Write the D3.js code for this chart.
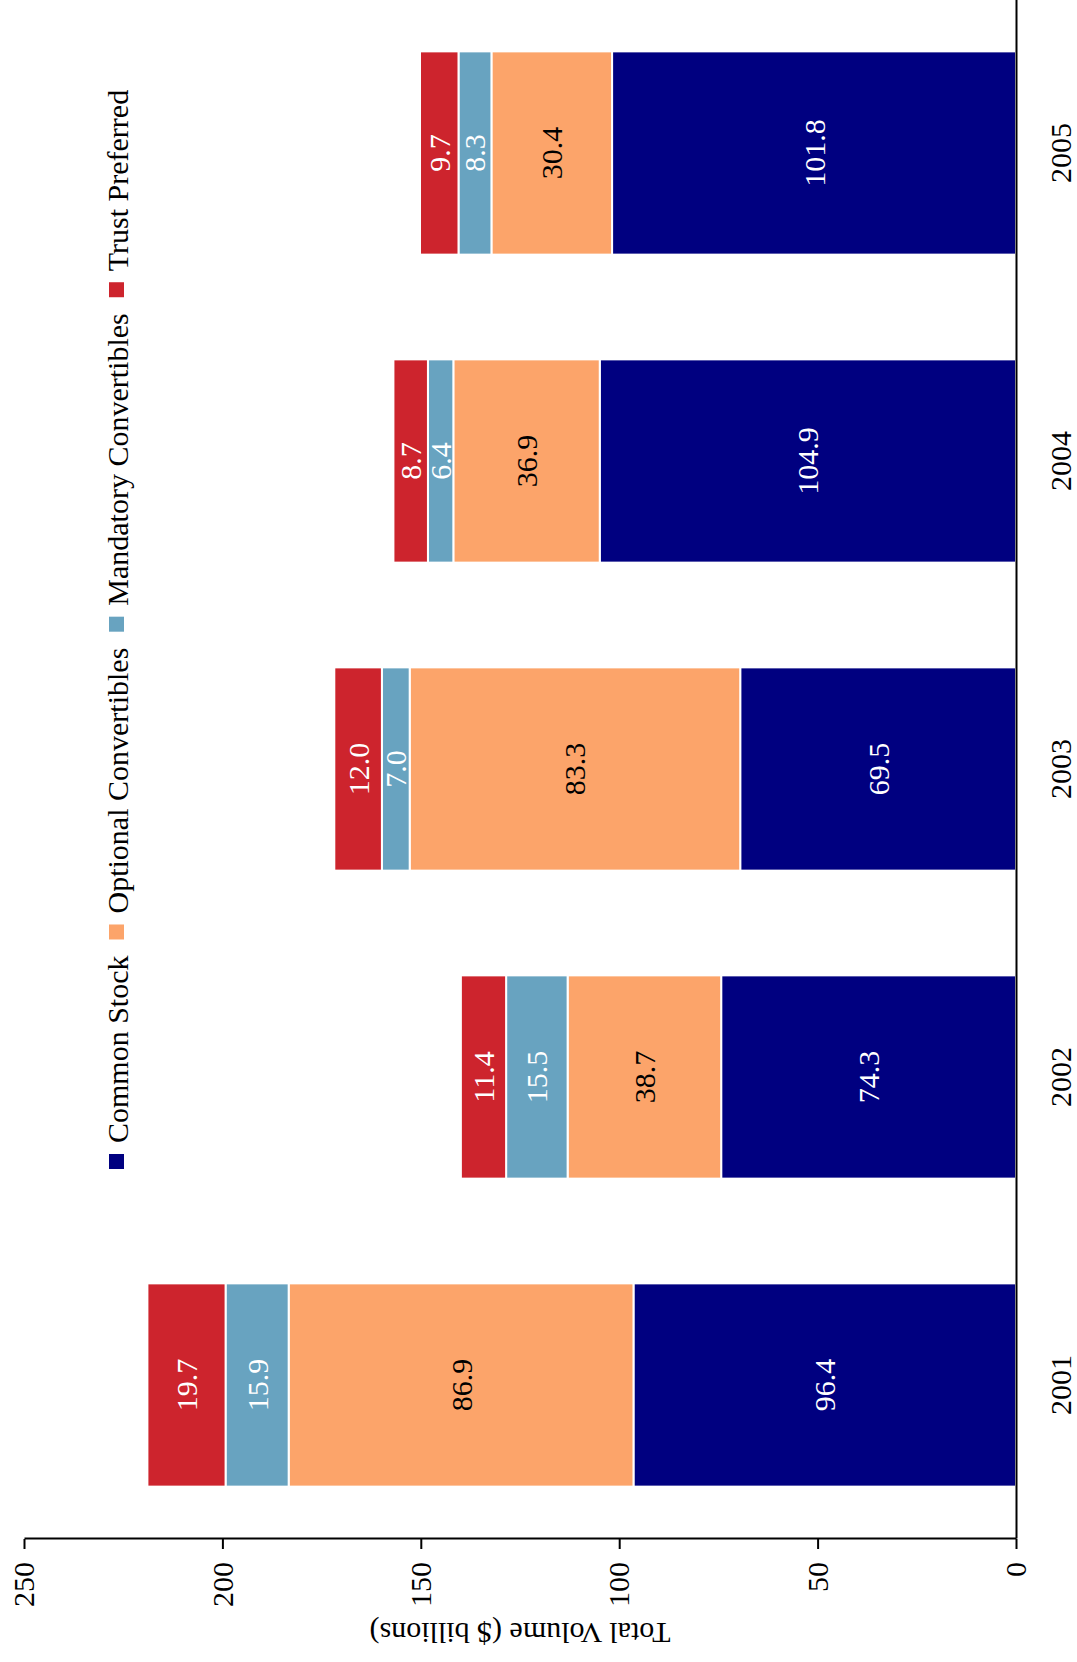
<!DOCTYPE html>
<html>
<head>
<meta charset="utf-8">
<script src="https://cdn.jsdelivr.net/npm/d3@7"></script>
<style>
  html, body { margin: 0; padding: 0; background: #fff; }
  svg { display: block; }
</style>
</head>
<body>
<script>
const years = ["2001", "2002", "2003", "2004", "2005"];
const seriesNames = ["Common Stock", "Optional Convertibles", "Mandatory Convertibles", "Trust Preferred"];
const commonStock = [96.4, 74.3, 69.5, 104.9, 101.8];
const optionalConv = [86.9, 38.7, 83.3, 36.9, 30.4];
const mandatoryConv = [15.9, 15.5, 7.0, 6.4, 8.3];
const trustPreferred = [19.7, 11.4, 12.0, 8.7, 9.7];
const valueTicks = [0, 50, 100, 150, 200, 250];
const colors = ["#000080", "#fca46a", "#68a3c0", "#cd242d"];
const labelColors = ["#ffffff", "#000000", "#ffffff", "#ffffff"];
const axisTitle = "Total Volume ($ billions)";

const FONT = "'Liberation Serif', 'Times New Roman', Times, serif";
const W = 1077, H = 1662;
// chart is drawn in its own orientation (width H, height W) then turned a quarter turn
const svg = d3.select("body").append("svg").attr("width", W).attr("height", H);
const g = svg.append("g").attr("transform", `translate(0,${H}) rotate(-90)`)
  .attr("font-family", FONT);

const margin = {left: 123};
const x = d3.scaleBand().domain(years).range([margin.left, H + 1]).paddingInner(0.34).paddingOuter(0.17);
const y = d3.scaleLinear().domain([0, 250]).range([1016, 24]);

const table = years.map((yr, i) => ({
  year: yr,
  "Common Stock": commonStock[i],
  "Optional Convertibles": optionalConv[i],
  "Mandatory Convertibles": mandatoryConv[i],
  "Trust Preferred": trustPreferred[i]
}));
const stacked = d3.stack().keys(seriesNames)(table);

const layers = g.selectAll("g.layer").data(stacked).join("g")
  .attr("class", "layer").attr("fill", (d, i) => colors[i]);
layers.selectAll("rect").data(d => d).join("rect")
  .attr("x", d => x(d.data.year))
  .attr("width", x.bandwidth())
  .attr("y", d => y(d[1]))
  .attr("height", d => y(d[0]) - y(d[1]))
  .attr("stroke", "#fff").attr("stroke-width", 2);

stacked.forEach((layer, i) => {
  g.append("g").selectAll("text").data(layer).join("text")
    .attr("x", d => x(d.data.year) + x.bandwidth() / 2)
    .attr("y", d => (y(d[0]) + y(d[1])) / 2)
    .attr("dy", "0.35em")
    .attr("text-anchor", "middle")
    .attr("font-family", FONT)
    .attr("font-size", 30)
    .attr("fill", labelColors[i])
    .text(d => (d[1] - d[0]).toFixed(1));
});

// axes
const xAxis = g.append("g").attr("transform", `translate(0,${y(0)})`)
  .call(d3.axisBottom(x).tickSize(0).tickPadding(34));
xAxis.attr("font-family", FONT).attr("font-size", 30);
xAxis.select(".domain").attr("stroke", "#000").attr("stroke-width", 2);
xAxis.selectAll("text").attr("fill", "#000").attr("font-family", FONT).attr("font-size", 30);

const yAxis = g.append("g").attr("transform", `translate(${margin.left},0)`)
  .call(d3.axisLeft(y).tickValues(valueTicks).tickSize(10).tickSizeOuter(0).tickPadding(13));
yAxis.attr("font-family", FONT).attr("font-size", 30);
yAxis.select(".domain").attr("stroke", "#000").attr("stroke-width", 2);
yAxis.selectAll(".tick line").attr("stroke", "#000").attr("stroke-width", 2);
yAxis.selectAll("text").attr("fill", "#000").attr("font-family", FONT).attr("font-size", 30);

g.append("text")
  .attr("transform", `translate(39,${(y(0) + y(250)) / 2}) rotate(-90)`)
  .attr("text-anchor", "middle")
  .attr("font-family", FONT)
  .attr("font-size", 30)
  .attr("fill", "#000")
  .text(axisTitle);

// legend
const legend = g.append("g").attr("transform", "translate(493,0)");
let lx = 0;
seriesNames.forEach((name, i) => {
  legend.append("rect").attr("x", lx).attr("y", 109).attr("width", 15).attr("height", 15).attr("fill", colors[i]);
  const t = legend.append("text").attr("x", lx + 26).attr("y", 128)
    .attr("font-family", FONT).attr("font-size", 30).attr("fill", "#000").text(name);
  lx += 26 + t.node().getComputedTextLength() + 16;
});
</script>
</body>
</html>
